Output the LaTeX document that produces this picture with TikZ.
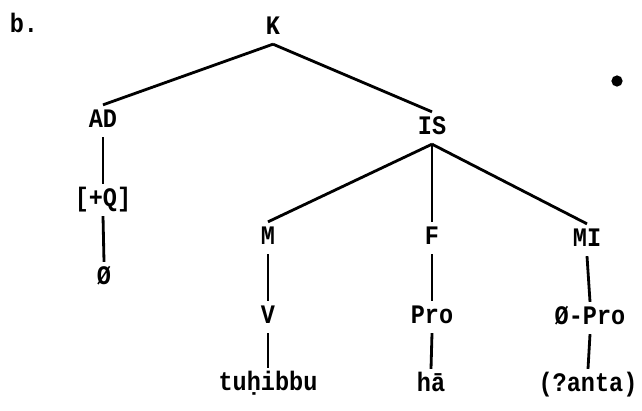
\documentclass[tikz,border=0pt]{standalone}
\usepackage{fontspec}
\setmonofont[FakeStretch=0.88]{Liberation Mono}
\usetikzlibrary{positioning}

\begin{document}
\begin{tikzpicture}[x=0.025cm, y=-0.025cm, line width=2pt,
    every node/.style={font=\ttfamily\bfseries\fontsize{19}{22}\selectfont,
        inner sep=3pt, text height=12pt, text depth=3pt}]
                \useasboundingbox (0,0) rectangle (642,410);

                % Etiqueta del ejemplo
                \node (b) at (24,26) {b.};

                % Raíz y primer nivel
                \node (K) at (273,28) {K};
                \node (AD) at (103,121) {AD};
                \node (IS) at (432,128) {IS};

                % Rama izquierda
                \node (Q) at (103,200) {[+Q]};
                \node (nulo) at (104,278) {Ø};

                % Hijos de IS
                \node (M) at (268,238) {M};
                \node (F) at (432,238) {F};
                \node (MI) at (587,240) {MI};

                \node (V) at (268,317) {V};
                \node (Pro) at (432,317) {Pro};
                \node (nuloPro) at (590,318) {Ø-Pro};

                % Palabras terminales
                \node (tuhibbu) at (268,384) {tuḥibbu};
                \node (ha) at (431,385) {hā};
                \node (anta) at (588,385) {(?anta)};

                % Mancha de tinta
                \fill (617,81) circle (4pt);

                \path[draw]
                (K.south) edge (AD.north)
                (K.south) edge (IS.north)
                (AD.south) edge (Q.north)
                (Q.south) edge (nulo.north)

                (IS.south) edge (M.north)
                (IS.south) edge (F.north)
                (IS.south) edge (MI.north)

                (M.south) edge (V.north)
                (V.south) edge (tuhibbu.north)
                (F.south) edge (Pro.north)
                (Pro.south) edge (ha.north)
                (MI.south) edge (nuloPro.north)
                (nuloPro.south) edge (anta.north);
\end{tikzpicture}
\end{document}
